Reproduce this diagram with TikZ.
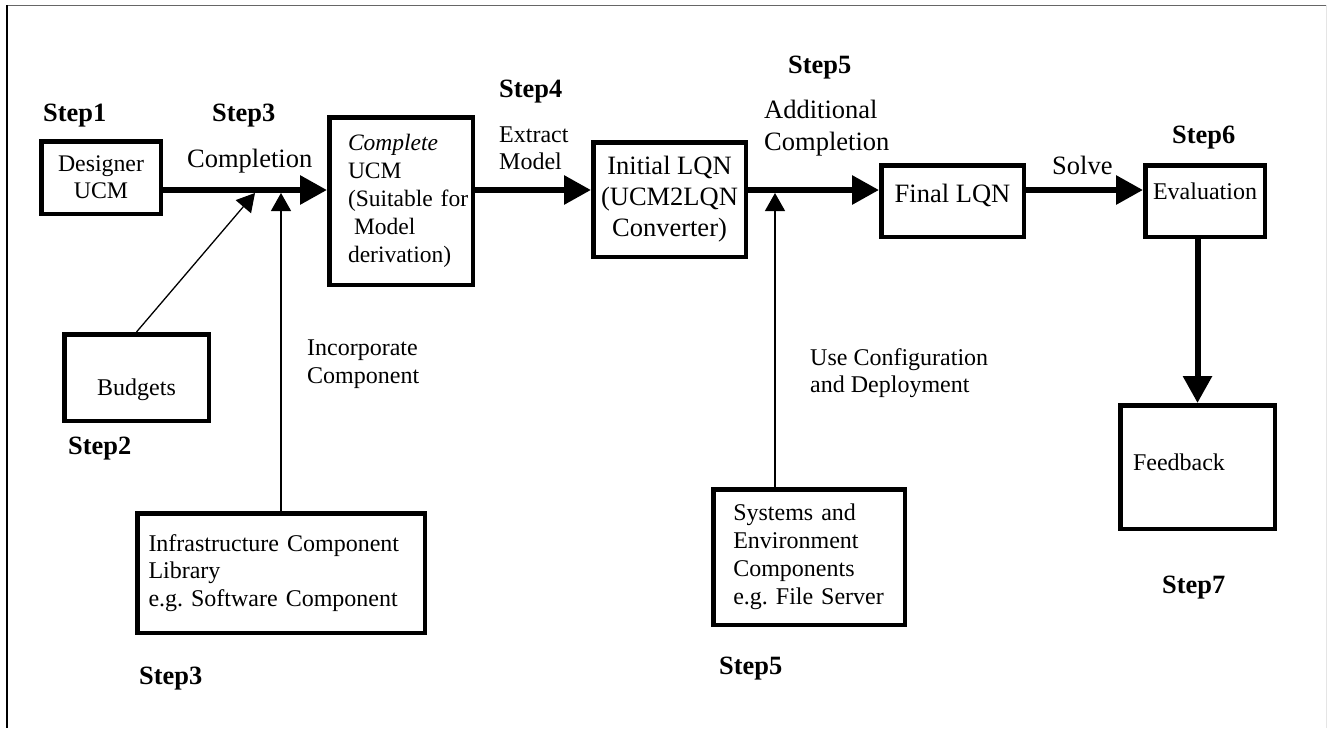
\documentclass[tikz,border=0pt]{standalone}
\usepackage{fontspec}
\setmainfont{Liberation Serif}
\usetikzlibrary{arrows.meta}

\begin{document}
\begin{tikzpicture}[
    x=1pt, y=-1pt,
    block/.style={draw, rectangle, line width=4.5pt, inner sep=0pt, font=\fontsize{24}{28}\selectfont},
    big/.style={font=\fontsize{26.5}{31}\selectfont},
    steplbl/.style={anchor=base west, inner sep=0pt, font=\fontsize{26.4}{30}\selectfont\bfseries},
    note/.style={anchor=base west, inner sep=0pt, align=left, font=\fontsize{24}{28}\selectfont},
    flow/.style={line width=6pt, -{Triangle[length=27pt,width=28pt]}},
    feed/.style={line width=1.3pt, -{Triangle[length=18pt,width=20pt]}}
]
\useasboundingbox (0,0) rectangle (1327,728);
% frame
\draw[line width=1pt, black!60] (6,5) -- (1327,5);
\draw[line width=2pt] (7,5) -- (7,728);
\draw[line width=1pt, black!10] (1326,5) -- (1326,728);

% boxes
\node[block, align=center, minimum width=119.5pt, minimum height=72.5pt,
      font=\fontsize{23.8}{27}\selectfont] (desg) at (101,177.5) {Designer\\UCM};
\node[block, align=left, minimum width=143.5pt, minimum height=167.5pt,
      inner xsep=18.75pt, text width=106pt, font=\fontsize{23.5}{28}\selectfont]
      (cucm) at (401,201) {\textit{Complete}\\UCM\\(Suitable~for\\\hspace*{6pt}Model\\derivation)};
\node[block, big, align=center, minimum width=152.5pt, minimum height=114.5pt]
      (ilqn) at (669.5,199.5) {Initial LQN\\(UCM2LQN\\Converter)};
\node[block, big, minimum width=142.5pt, minimum height=71.5pt,
      text height=18pt, text depth=16pt] (flqn) at (952.5,201) {Final LQN};
\node[block, minimum width=119.5pt, minimum height=71.5pt,
      text height=16pt, text depth=20pt] (eval) at (1205,201) {Evaluation};
\node[block, minimum width=144.5pt, minimum height=86.5pt,
      text height=40pt, text depth=5pt] (budg) at (136.5,377.5) {Budgets};
\node[block, align=left, minimum width=154.5pt, minimum height=123.5pt,
      inner xsep=12.75pt, text width=129pt, text height=17pt, text depth=11pt]
      (fb) at (1197.5,467) {Feedback};
\node[block, align=left, minimum width=287.5pt, minimum height=119.5pt,
      inner xsep=11pt, text width=265pt, font=\fontsize{24}{27.5}\selectfont]
      (infra) at (281,573) {Infrastructure Component\\Library\\e.g.\ Software Component};
\node[block, align=left, minimum width=191.5pt, minimum height=135.5pt,
      inner xsep=20pt, text width=151.5pt]
      (sysc) at (809,557) {Systems and\\Environment\\Components\\e.g.\ File~Server};

% labels
\node[steplbl] (s1) at (43,121) {Step1};
\node[steplbl] (s3a) at (212,121) {Step3};
\node[note, big] (cmpl) at (187,167) {Completion};
\node[steplbl] (s4) at (499,97) {Step4};
\node[note, font=\fontsize{24}{27}\selectfont] (xtr) at (499,169) {Extract\\Model};
\node[steplbl] (s5a) at (788,73) {Step5};
\node[note, big, font=\fontsize{26.5}{32}\selectfont] (addc) at (764,150) {Additional\\Completion};
\node[steplbl] (s6) at (1172,143) {Step6};
\node[note, big] (solve) at (1052,174) {Solve};
\node[note] (inc) at (307,383) {Incorporate\\Component};
\node[note, font=\fontsize{24}{27}\selectfont] (ucd) at (810,392) {Use Configuration\\and Deployment};
\node[steplbl] (s2) at (68,454) {Step2};
\node[steplbl] (s3b) at (139,684) {Step3};
\node[steplbl] (s5b) at (719,674) {Step5};
\node[steplbl] (s7) at (1162,593) {Step7};

% main flow
\coordinate (axis) at (0,190);
\draw[flow] (desg.east |- axis) -- (cucm.west |- axis);
\draw[flow] (cucm.east |- axis) -- (ilqn.west |- axis);
\draw[flow] (ilqn.east |- axis) -- (flqn.west |- axis);
\draw[flow] (flqn.east |- axis) -- (eval.west |- axis);
\draw[flow] (eval.south -| fb.north) -- (fb.north);

% inputs
\coordinate (jb) at (255,193);
\coordinate (ji) at (281,193);
\coordinate (js) at (775,193);
\draw[feed] (budg.north) -- (jb);
\draw[feed] (infra.north) -- (ji);
\draw[feed] (sysc.north -| js) -- (js);
\end{tikzpicture}
\end{document}
